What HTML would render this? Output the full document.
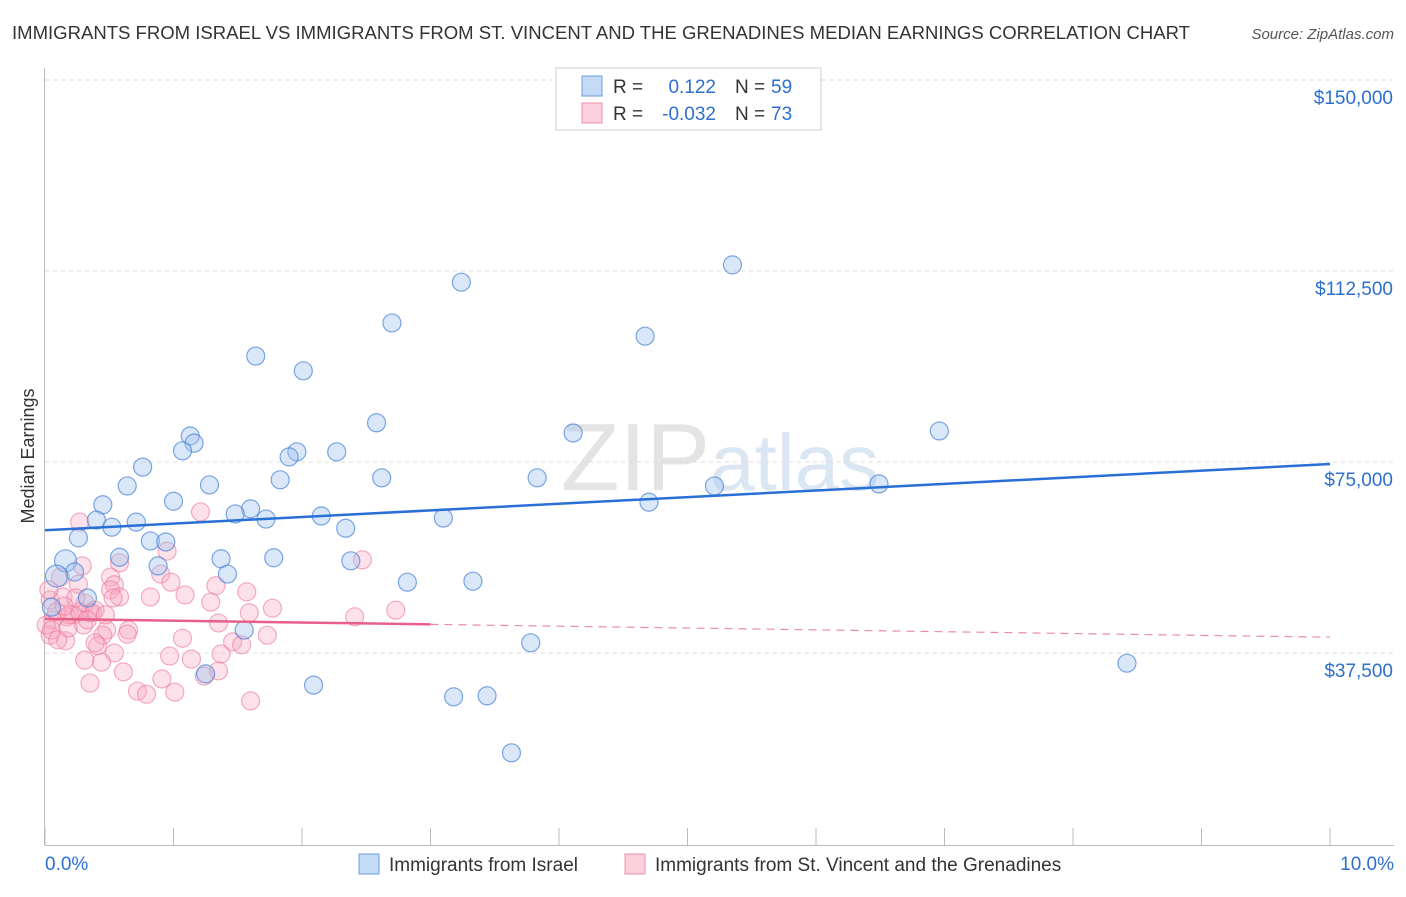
<!DOCTYPE html>
<html><head><meta charset="utf-8"><style>
body{margin:0;background:#fff;font-family:"Liberation Sans",sans-serif}
svg text{font-family:"Liberation Sans",sans-serif}
</style></head><body>
<svg id="chart" width="1406" height="892">
<text x="12" y="39" font-size="18" fill="#333" textLength="1178" lengthAdjust="spacingAndGlyphs">IMMIGRANTS FROM ISRAEL VS IMMIGRANTS FROM ST. VINCENT AND THE GRENADINES MEDIAN EARNINGS CORRELATION CHART</text>
<text x="1394" y="39" font-size="15" fill="#555" font-style="italic" text-anchor="end">Source: ZipAtlas.com</text>
<text x="720" y="490" font-size="96" fill="#e4e4e4" text-anchor="middle" font-family="Liberation Serif">ZIP<tspan fill="#dbe6f3" font-family="Liberation Sans" font-size="80">atlas</tspan></text>
<g id="grid"></g><g id="axes"></g><g id="pts"></g><g id="trend"></g>
<text transform="translate(34,456) rotate(-90)" font-size="18" fill="#333" text-anchor="middle">Median Earnings</text>
<g>
<rect x="556" y="68" width="265" height="62" fill="#fff" stroke="#ccc"/>
<rect x="582" y="76" width="20" height="20" fill="#c4daf5" stroke="#6a9de0"/>
<rect x="582" y="103" width="20" height="20" fill="#fbd0dc" stroke="#ee92ad"/>
<text x="613" y="93" font-size="19" fill="#333">R =</text>
<text x="716" y="93" font-size="19" fill="#2d6fcf" text-anchor="end">0.122</text>
<text x="735" y="93" font-size="19" fill="#333">N =</text>
<text x="771" y="93" font-size="19" fill="#2d6fcf">59</text>
<text x="613" y="120" font-size="19" fill="#333">R =</text>
<text x="716" y="120" font-size="19" fill="#2d6fcf" text-anchor="end">-0.032</text>
<text x="735" y="120" font-size="19" fill="#333">N =</text>
<text x="771" y="120" font-size="19" fill="#2d6fcf">73</text>
</g>
<g>
<rect x="359" y="854" width="20" height="20" fill="#c4daf5" stroke="#6a9de0"/>
<text x="389" y="871" font-size="19" fill="#333">Immigrants from Israel</text>
<rect x="625" y="854" width="20" height="20" fill="#fbd0dc" stroke="#ee92ad"/>
<text x="655" y="871" font-size="19" fill="#333">Immigrants from St. Vincent and the Grenadines</text>
</g>
</svg>
<script>
const yTicks=[37.5,75,112.5,150];
const yTickLabels=["$37,500","$75,000","$112,500","$150,000"];
const xTicks=[0,1,2,3,4,5,6,7,8,9,10];
const blueX=[5.35,3.24,2.70,4.67,1.64,2.01,2.58,6.96,4.11,1.13,1.16,1.07,1.96,1.90,2.27,0.76,2.62,3.83,1.83,0.64,1.28,5.21,6.49,0.45,1.00,4.70,1.60,1.48,0.40,2.15,3.10,0.71,1.72,0.52,2.34,0.26,0.82,0.94,0.16,0.58,1.37,1.78,2.38,0.88,1.42,0.23,0.09,2.82,3.33,0.33,0.05,1.55,3.78,8.42,1.25,2.09,3.18,3.44,3.63];
const blueY=[113.7,110.3,102.3,99.7,95.8,92.9,82.7,81.1,80.7,80.1,78.7,77.2,77.0,76.0,77.0,74.0,71.9,71.9,71.5,70.3,70.5,70.3,70.7,66.6,67.3,67.1,65.8,64.8,63.6,64.4,64.0,63.2,63.8,62.2,62.0,60.1,59.5,59.3,55.6,56.3,56.0,56.2,55.6,54.6,53.0,53.4,52.6,51.4,51.6,48.3,46.5,42.0,39.5,35.5,33.4,31.2,28.9,29.1,17.9];
const pinkX=[0.27,1.21,2.47,0.95,0.58,0.29,0.12,0.26,0.51,0.54,0.51,0.58,0.53,0.82,0.90,0.98,1.09,1.33,1.29,1.57,1.77,1.59,1.35,2.41,0.35,0.22,0.30,0.17,0.06,0.04,0.16,0.37,0.48,0.45,0.65,0.64,0.41,0.39,0.54,1.07,1.46,1.53,1.73,0.31,0.44,0.97,1.14,1.37,0.61,1.24,1.35,0.91,0.35,0.72,0.79,1.01,1.60,2.73,0.04,0.09,0.14,0.19,0.01,0.05,0.27,0.31,0.39,0.47,0.10,0.18,0.24,0.33,0.15,0.03];
const pinkY=[63.2,65.2,55.8,57.5,55.2,54.6,52.4,51.0,52.4,50.9,49.9,48.5,48.3,48.5,53.0,51.4,48.9,50.7,47.5,49.5,46.3,45.4,43.4,44.6,45.4,45.0,43.0,44.6,44.0,41.0,39.9,45.4,42.0,41.0,42.0,41.2,38.9,39.5,37.5,40.4,39.7,39.1,41.0,36.1,35.7,36.9,36.3,37.3,33.8,33.0,34.0,32.4,31.6,30.0,29.4,29.8,28.1,45.9,47.9,45.6,48.5,45.0,43.0,42.0,45.6,47.3,45.9,45.0,40.1,42.4,48.3,44.0,46.7,49.9];
const blueTrend=[61.6,74.6];
const pinkTrend=[44.2,40.6];
const pinkSolidEnd=3;
const X=v=>45+v*128.5, Y=v=>653-(v-37.5)*191/37.5;
const NS="http://www.w3.org/2000/svg";
function mk(p,t,a){const e=document.createElementNS(NS,t);for(const k in a)e.setAttribute(k,a[k]);p.appendChild(e);return e;}
const grid=document.getElementById('grid'),axes=document.getElementById('axes'),pts=document.getElementById('pts'),tr=document.getElementById('trend');
yTicks.forEach((t,i)=>{const g=mk(grid,'line',{x1:45,x2:1394,y1:Y(t),y2:Y(t),stroke:'#ddd','stroke-dasharray':'4,4'});


const l=mk(axes,'text',{x:1393,y:Y(t)+24,'font-size':19,fill:'#2d6fcf','text-anchor':'end'});l.textContent=yTickLabels[i];

});
mk(axes,'line',{x1:44.5,x2:44.5,y1:68,y2:845,stroke:'#bbb'});
mk(axes,'line',{x1:45,x2:1394,y1:845.5,y2:845.5,stroke:'#bbb'});
xTicks.forEach(t=>{const e=mk(axes,'line',{x1:X(t),x2:X(t),y1:828,y2:845,stroke:'#bbb'});

});
const x0=mk(axes,'text',{x:45,y:870,'font-size':19,fill:'#2d6fcf'});x0.textContent='0.0%';


const x1=mk(axes,'text',{x:1394,y:870,'font-size':19,fill:'#2d6fcf','text-anchor':'end'});x1.textContent='10.0%';


pinkX.forEach((x,i)=>{const c=mk(pts,'circle',{cx:X(x),cy:Y(pinkY[i]),r:9,fill:'rgba(247,170,195,0.35)',stroke:'rgba(236,120,155,0.6)','stroke-width':1.2});

});
blueX.forEach((x,i)=>{const c=mk(pts,'circle',{cx:X(x),cy:Y(blueY[i]),r:(i==46||i==38)?11:9,fill:'rgba(160,195,238,0.4)',stroke:'rgba(70,130,215,0.7)','stroke-width':1.2});

});
const bl=mk(tr,'line',{x1:X(0),y1:Y(blueTrend[0]),x2:X(10),y2:Y(blueTrend[1]),stroke:'#2a6fd6','stroke-width':2.5});


const pm=pinkTrend[0]+(pinkTrend[1]-pinkTrend[0])*pinkSolidEnd/10;
const pl=mk(tr,'line',{x1:X(0),y1:Y(pinkTrend[0]),x2:X(pinkSolidEnd),y2:Y(pm),stroke:'#e8608a','stroke-width':2.5});


const pd=mk(tr,'line',{x1:X(pinkSolidEnd),y1:Y(pm),x2:X(10),y2:Y(pinkTrend[1]),stroke:'#ec8aa8','stroke-width':1.2,'stroke-dasharray':'8,6'});


</script>
</body></html>
